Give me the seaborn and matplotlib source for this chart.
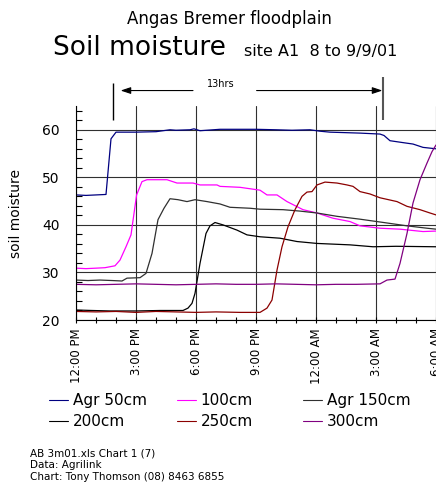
import numpy as np
import pandas as pd
import seaborn as sns
import matplotlib.pyplot as plt
from matplotlib.lines import Line2D
from matplotlib.ticker import MultipleLocator

# hours after 12:00 PM on 8/9/01, soil moisture readings per depth
t50 = [0, 0.5, 1.0, 1.5, 1.75, 2.0, 3.0, 4.0, 4.7, 5.0, 5.7, 5.9, 6.2, 7.2, 8.2, 9.0,
       10.0, 10.8, 11.7, 12.2, 12.7, 14.2, 15.2, 15.4, 15.7, 16.35, 16.85, 17.35, 18.0]
v50 = [46.3, 46.2, 46.3, 46.4, 58.1, 59.5, 59.5, 59.6, 60.0, 59.9, 60.0, 60.2, 59.8, 60.1, 60.1, 60.1,
       60.0, 59.9, 60.0, 59.7, 59.5, 59.3, 59.1, 58.8, 57.7, 57.3, 57.0, 56.3, 56.0]

t100 = [0, 0.5, 1.0, 1.45, 1.95, 2.2, 2.5, 2.75, 3.03, 3.3, 3.55, 4.55, 5.05, 5.85, 6.2, 7.05,
        7.2, 8.2, 9.2, 9.55, 10.05, 10.55, 11.35, 12.05, 12.85, 13.7, 14.2, 15.2, 16.2, 17.35, 18.0]
v100 = [30.9, 30.8, 30.9, 31.0, 31.4, 32.6, 35.4, 37.9, 46.3, 49.1, 49.5, 49.5, 48.8, 48.8, 48.4, 48.4,
        48.1, 47.9, 47.3, 46.3, 46.3, 44.9, 43.2, 42.5, 41.4, 40.7, 39.8, 39.3, 39.1, 38.6, 38.7]

t150 = [0, 0.6, 1.2, 1.8, 2.3, 2.55, 3.2, 3.5, 3.8, 4.1, 4.4, 4.7, 5.1, 5.55, 5.95, 6.55, 7.2,
        7.7, 8.7, 9.2, 10.35, 11.2, 12.05, 13.05, 14.2, 15.55, 16.55, 17.55, 18.0]
v150 = [28.4, 28.3, 28.4, 28.3, 28.2, 28.8, 28.9, 29.8, 34.0, 41.1, 43.5, 45.5, 45.3, 44.9, 45.3, 44.9, 44.4,
        43.7, 43.5, 43.3, 43.2, 42.9, 42.5, 41.8, 41.2, 40.4, 39.8, 39.3, 39.1]

t200 = [0, 0.8, 1.7, 3.0, 4.2, 5.35, 5.6, 5.8, 5.95, 6.2, 6.5, 6.7, 6.95, 7.35, 8.05, 8.55,
        9.2, 10.2, 11.05, 12.05, 13.7, 14.85, 16.0, 18.0]
v200 = [22.1, 22.0, 21.9, 21.9, 22.0, 22.0, 22.5, 23.5, 25.6, 31.9, 38.2, 39.8, 40.5, 40.0, 38.9, 37.9,
        37.5, 37.2, 36.5, 36.1, 35.8, 35.4, 35.5, 35.4]

t250 = [0, 1.0, 2.0, 3.0, 4.0, 5.0, 6.0, 7.0, 8.2, 9.2, 9.55, 9.8, 10.05, 10.3, 10.6, 10.95,
        11.3, 11.55, 11.8, 12.05, 12.45, 13.05, 13.55, 13.85, 14.2, 14.7, 15.2, 16.05, 16.55, 17.2, 17.7, 18.0]
v250 = [21.8, 21.7, 21.8, 21.6, 21.8, 21.7, 21.6, 21.7, 21.6, 21.6, 22.5, 24.2, 30.5, 35.4, 39.6, 43.2,
        46.0, 46.9, 47.0, 48.4, 49.0, 48.8, 48.4, 48.1, 47.0, 46.5, 45.7, 44.9, 43.9, 43.2, 42.5, 42.1]

t300 = [0, 1.0, 2.0, 3.0, 4.0, 5.0, 6.0, 7.0, 8.0, 9.0, 10.0, 11.0, 12.0, 13.0, 14.0, 15.2,
        15.55, 15.95, 16.2, 16.55, 16.85, 17.2, 17.55, 17.8, 18.0]
v300 = [27.5, 27.4, 27.5, 27.6, 27.5, 27.4, 27.5, 27.6, 27.5, 27.5, 27.6, 27.5, 27.4, 27.5, 27.5, 27.6,
        28.4, 28.6, 31.9, 38.2, 44.6, 49.5, 53.0, 55.4, 56.8]

series_names = ["Agr 50cm", "100cm", "Agr 150cm", "200cm", "250cm", "300cm"]
series_data = [(t50, v50), (t100, v100), (t150, v150), (t200, v200), (t250, v250), (t300, v300)]
colors = ["#000080", "#ff00ff", "#303030", "#000000", "#8b0000", "#800080"]

tick_hours = [0, 3, 6, 9, 12, 15, 18]
tick_labels = ["12:00 PM", "3:00 PM", "6:00 PM", "9:00 PM", "12:00 AM", "3:00 AM", "6:00 AM"]

# start / end of the 13 hr annotation (hours)
mark_start, mark_end = 1.83, 15.37

rows = []
for name, (t, v) in zip(series_names, series_data):
    for h, val in zip(t, v):
        rows.append({"hours": h, "moisture": val, "depth": name})
df = pd.DataFrame(rows)

sns.set_style("white")
plt.rcParams["font.family"] = ["DejaVu Sans"]
plt.rcParams.update({"text.color": "black", "axes.labelcolor": "black",
                     "xtick.color": "black", "ytick.color": "black"})

fig = plt.figure(figsize=(4.36, 4.84), dpi=100)
ax = fig.add_axes([76 / 436, 164 / 484, 360 / 436, 214 / 484])

sns.lineplot(data=df, x="hours", y="moisture", hue="depth", hue_order=series_names,
             palette=dict(zip(series_names, colors)), estimator=None, sort=False,
             linewidth=0.9, legend=False, ax=ax)

ax.set_xlim(0, 18)
ax.set_ylim(20, 65)
ax.set_xticks(tick_hours)
ax.set_xticklabels(tick_labels, rotation=90, fontsize=8.5)
ax.xaxis.set_minor_locator(MultipleLocator(1))
ax.set_yticks([20, 30, 40, 50, 60])
ax.yaxis.set_minor_locator(MultipleLocator(2))
ax.tick_params(axis="y", which="major", direction="out", length=5, width=0.8, pad=7, labelsize=10)
ax.tick_params(axis="y", which="minor", direction="in", length=4, width=0.8, left=True)
ax.tick_params(axis="x", which="both", direction="inout", length=4, width=0.8, bottom=True, pad=4)
ax.grid(True, which="major", color="#303030", linewidth=0.8)
ax.set_axisbelow(True)
for side in ["top", "right"]:
    ax.spines[side].set_visible(False)
for side in ["left", "bottom"]:
    ax.spines[side].set_color("black")
    ax.spines[side].set_linewidth(0.8)

ax.set_xlabel("")
ax.set_ylabel("soil moisture", fontsize=10)
ax.yaxis.set_label_coords(-0.147, 0.5)

# 13 hr span annotation above the plot
ax.vlines(mark_start, 61.96, 69.9, color="black", linewidth=1, clip_on=False)
ax.vlines(mark_end, 61.96, 71.2, color="#555555", linewidth=1.5, clip_on=False)
arrow = dict(arrowstyle="-|>,head_length=0.6,head_width=0.2", color="black", lw=0.8,
             shrinkA=0, shrinkB=0)
ax.annotate("", xy=(mark_start + 0.4, 68.25), xytext=(5.85, 68.25), arrowprops=arrow,
            annotation_clip=False)
ax.annotate("", xy=(mark_end - 0.05, 68.25), xytext=(9.03, 68.25), arrowprops=arrow,
            annotation_clip=False)
ax.text(7.23, 69.0, "13hrs", fontsize=7, ha="center", va="baseline")

# titles
fig.text(229.5 / 436, 1 - 24 / 484, "Angas Bremer floodplain", fontsize=12, ha="center", va="baseline")
fig.text(52.7 / 436, 1 - 55 / 484, "Soil moisture", fontsize=19, ha="left", va="baseline")
fig.text(244 / 436, 1 - 56 / 484, "site A1  8 to 9/9/01", fontsize=11.5, ha="left", va="baseline")

# legend in three columns
handles = [Line2D([], [], color=c, linewidth=0.8) for c in colors]
for col, x0 in enumerate([49, 176.7, 303]):
    idx = [col, col + 3]
    leg = fig.legend([handles[i] for i in idx], [series_names[i] for i in idx],
                     loc="upper left", bbox_to_anchor=(x0 / 436, 1 - 393 / 484),
                     frameon=False, fontsize=11, handlelength=1.25, handletextpad=0.3,
                     labelspacing=0.4, borderpad=0, borderaxespad=0)

# source notes
notes = ["AB 3m01.xls Chart 1 (7)", "Data: Agrilink", "Chart: Tony Thomson (08) 8463 6855"]
for i, line in enumerate(notes):
    fig.text(30 / 436, 1 - (457 + 11.3 * i) / 484, line, fontsize=7.5, ha="left", va="baseline")

fig.savefig("out.png", dpi=100)
